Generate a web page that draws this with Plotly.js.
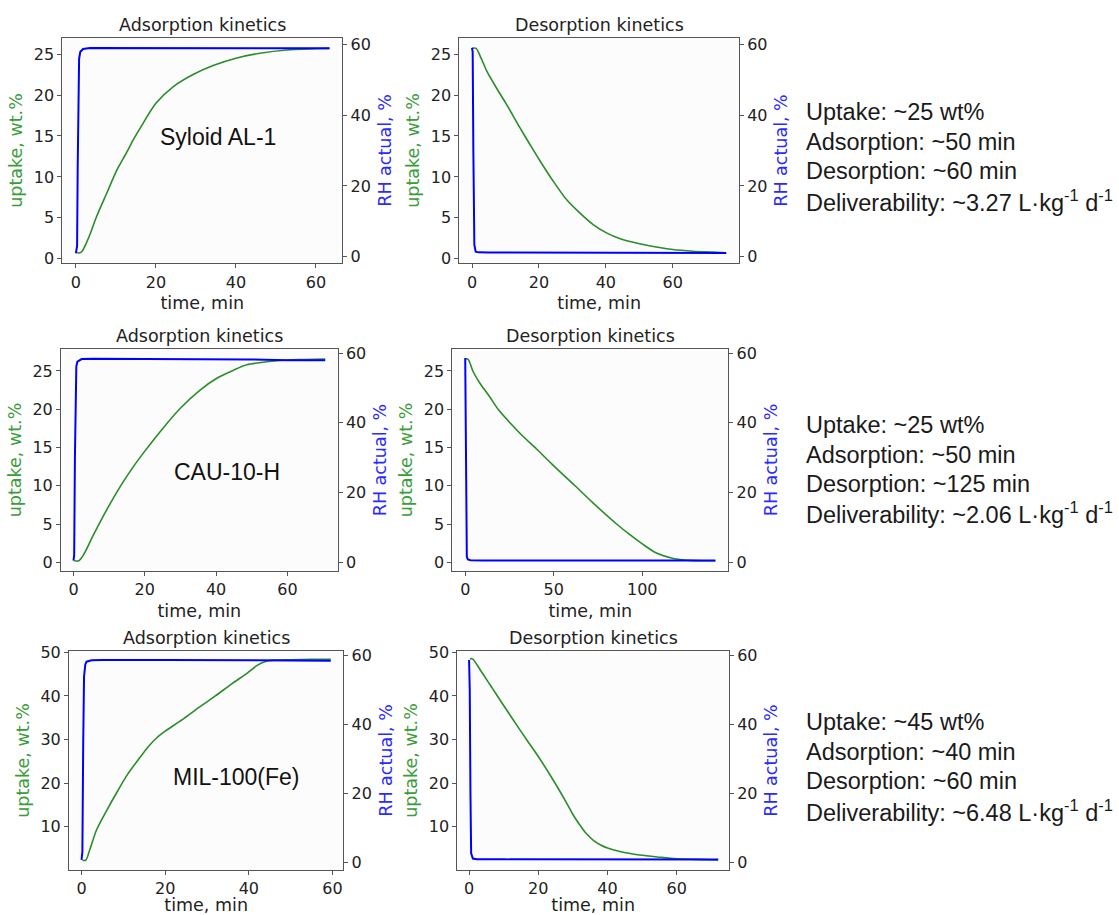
<!DOCTYPE html>
<html><head><meta charset="utf-8">
<script src="https://cdn.plot.ly/plotly-3.0.1.min.js"></script>
<style>html,body{margin:0;padding:0;background:#fff}#chart{width:1119px;height:915px}</style>
</head><body><div id="chart"></div>
<script>
// ---------- Data ----------
// Panel 1: Syloid AL-1 adsorption
var syAdsT   = [0.3, 1.0, 1.5, 2.5, 3.5, 5.2, 7.7, 10.2, 12.7, 14.3, 16, 20, 24.3, 29.3, 34.3, 40, 46, 52.7, 60, 63.4];
var syAdsUp  = [0.73, 0.73, 0.9, 1.8, 2.96, 5.2, 8.0, 10.8, 13.0, 14.5, 15.9, 19.0, 21.0, 22.5, 23.6, 24.5, 25.1, 25.5, 25.65, 25.7];
var syAdsRhT = [0, 0.3, 0.45, 0.6, 0.8, 1.1, 1.8, 3.5, 10, 20, 30, 40, 50, 63.4];
var syAdsRh  = [0.95, 3, 25, 48, 56, 58, 58.8, 59.1, 59.1, 59.1, 59.05, 59.0, 59.0, 59.0];
// Panel 2: Syloid AL-1 desorption
var syDesT   = [0, 1.2, 2.5, 4.5, 7.4, 10.4, 14.4, 17.4, 20.1, 24.3, 28.3, 32.2, 36.2, 40.2, 44.1, 50.1, 56, 60, 66, 71.9, 75.9];
var syDesUp  = [25.7, 25.7, 24.7, 22.85, 20.8, 18.8, 15.95, 13.9, 12.1, 9.46, 7.2, 5.6, 4.18, 3.17, 2.48, 1.83, 1.38, 1.14, 0.93, 0.81, 0.73];
var syDesRhT = [0, 0.2, 0.4, 0.7, 1.1, 2, 5, 20, 40, 60, 76];
var syDesRh  = [59.1, 58, 30, 3.3, 1.4, 1.2, 1.15, 1.1, 1.05, 1.0, 1.0];
// Panel 3: CAU-10-H adsorption
var cauAdsT   = [0.2, 1.5, 2.8, 5.6, 9.3, 13.1, 16.8, 19.9, 24.3, 29.9, 35.5, 40.2, 44.9, 48.6, 54.2, 60, 65, 70.6];
var cauAdsUp  = [0.2, 0.2, 0.96, 3.57, 6.84, 9.89, 12.5, 14.46, 17.07, 20.1, 22.5, 24.04, 25.1, 25.8, 26.2, 26.44, 26.5, 26.57];
var cauAdsRhT = [0, 0.2, 0.4, 0.6, 0.8, 1.1, 2.3, 5, 20, 40, 50, 60, 70.6];
var cauAdsRh  = [0.5, 2, 30, 52, 56.2, 57.6, 58.3, 58.4, 58.4, 58.3, 58.2, 58.0, 58.0];
// Panel 4: CAU-10-H desorption
var cauDesT   = [0.4, 1.7, 4.5, 8.3, 13.9, 18.6, 25, 32, 40.3, 50, 62, 72, 85.5, 93, 100, 108, 117.5, 127, 135, 141.3];
var cauDesUp  = [26.6, 26.5, 24.9, 23.4, 21.6, 20.0, 18.3, 16.6, 14.8, 12.6, 10.0, 7.8, 5.0, 3.6, 2.4, 1.2, 0.5, 0.25, 0.2, 0.2];
var cauDesRhT = [0, 0.3, 0.6, 0.9, 1.5, 3, 10, 50, 100, 141.3];
var cauDesRh  = [58.6, 40, 8, 1.6, 0.8, 0.6, 0.5, 0.5, 0.5, 0.5];
// Panel 5: MIL-100(Fe) adsorption
var milAdsT   = [0.2, 1.0, 2.0, 3.6, 6.0, 8.7, 11, 13.9, 16, 18, 20, 24, 28, 32, 36, 39.7, 42, 44, 46, 50, 55, 59.6];
var milAdsUp  = [2.3, 2.3, 4.8, 9.3, 13.7, 18.3, 22.0, 25.8, 28.4, 30.4, 31.9, 34.5, 37.3, 40.0, 42.8, 45.3, 47.0, 47.9, 48.2, 48.3, 48.4, 48.4];
var milAdsRhT = [0, 0.2, 0.4, 0.6, 0.9, 1.2, 2.4, 5, 20, 40, 59.6];
var milAdsRh  = [0.7, 3, 35, 54, 57.5, 58.3, 58.7, 58.8, 58.8, 58.7, 58.6];
// Panel 6: MIL-100(Fe) desorption
var milDesT   = [0.3, 1.0, 3.2, 6.1, 8, 9.9, 14.7, 16.6, 20, 24.3, 28.2, 30, 32, 34, 36, 38, 40, 43.6, 49.3, 55.1, 59.9, 65.7, 71.9];
var milDesUp  = [48.5, 48.5, 46, 42.5, 40.2, 37.9, 32.2, 30.0, 26.1, 20.7, 15.4, 12.8, 10.4, 8.3, 6.8, 5.8, 5.1, 4.3, 3.5, 3.0, 2.65, 2.5, 2.35];
var milDesRhT = [0, 0.2, 0.4, 0.6, 1.1, 2.2, 10, 30, 50, 72];
var milDesRh  = [58.8, 50, 20, 2.6, 1.1, 0.9, 0.85, 0.8, 0.8, 0.8];

// Labels
var panelTitles = ["Adsorption kinetics", "Desorption kinetics", "Adsorption kinetics", "Desorption kinetics", "Adsorption kinetics", "Desorption kinetics"];
var materials = ["Syloid AL-1", "CAU-10-H", "MIL-100(Fe)"];
var infoLines = [
  ["Uptake: ~25 wt%", "Adsorption: ~50 min", "Desorption: ~60 min", "Deliverability: ~3.27 L·kg<sup>-1</sup> d<sup>-1</sup>"],
  ["Uptake: ~25 wt%", "Adsorption: ~50 min", "Desorption: ~125 min", "Deliverability: ~2.06 L·kg<sup>-1</sup> d<sup>-1</sup>"],
  ["Uptake: ~45 wt%", "Adsorption: ~40 min", "Desorption: ~60 min", "Deliverability: ~6.48 L·kg<sup>-1</sup> d<sup>-1</sup>"]
];
var xLabel = "time, min", yLeftLabel = "uptake, wt.%", yRightLabel = "RH actual, %";

// ---------- Layout helpers ----------
var W = 1119, H = 915;
function px(x){ return x / W; }
function py(y){ return 1 - y / H; }

var panels = [
  {t: syAdsT, up: syAdsUp, rt: syAdsRhT, rh: syAdsRh, frame: [62.3, 342.3, 37.7, 263.3], xr: [-3.4, 66.6], yl: [-0.55, 27.0], yr: [-1.9, 62.0], xd: 20, yld: 5, y0: 0},
  {t: syDesT, up: syDesUp, rt: syDesRhT, rh: syDesRh, frame: [459.3, 739, 37.7, 263.3], xr: [-3.8, 79.8], yl: [-0.55, 27.0], yr: [-1.9, 62.0], xd: 20, yld: 5, y0: 0},
  {t: cauAdsT, up: cauAdsUp, rt: cauAdsRhT, rh: cauAdsRh, frame: [61, 337.7, 349, 571], xr: [-3.5, 74.1], yl: [-1.14, 27.87], yr: [-2.5, 61.2], xd: 20, yld: 5, y0: 0},
  {t: cauDesT, up: cauDesUp, rt: cauDesRhT, rh: cauDesRh, frame: [452.3, 728.3, 349, 571], xr: [-7.3, 148.6], yl: [-1.14, 27.87], yr: [-2.5, 61.2], xd: 50, yld: 5, y0: 0},
  {t: milAdsT, up: milAdsUp, rt: milAdsRhT, rh: milAdsRh, frame: [69, 343.3, 651, 870], xr: [-3.0, 62.6], yl: [0.06, 50.3], yr: [-2.24, 61.4], xd: 20, yld: 10, y0: 10},
  {t: milDesT, up: milDesUp, rt: milDesRhT, rh: milDesRh, frame: [457.3, 729, 651, 870], xr: [-3.4, 75.1], yl: [0.06, 50.3], yr: [-2.24, 61.4], xd: 20, yld: 10, y0: 10}
];

var GREEN_LINE = "#2a8c2a", GREEN_TXT = "#3a9d3a", BLUE_LINE = "#0000ff", BLUE_TXT = "#2a2aff";
var FRAME = "#555555", TICKTXT = "#222222";
var tickFont = {family: "DejaVu Sans", size: 16, color: TICKTXT};

var data = [];
var layout = {
  width: W, height: H,
  margin: {l: 0, r: 0, t: 0, b: 0},
  paper_bgcolor: "#ffffff",
  plot_bgcolor: "#fcfcfc",
  showlegend: false,
  annotations: []
};

panels.forEach(function(p, i){
  var n = i + 1;
  var xa = "x" + (n === 1 ? "" : n);
  var yL = "y" + (2*n - 1 === 1 ? "" : (2*n - 1));
  var yR = "y" + (2*n);
  var xKey = "xaxis" + (n === 1 ? "" : n);
  var yLKey = "yaxis" + (2*n - 1 === 1 ? "" : (2*n - 1));
  var yRKey = "yaxis" + (2*n);

  data.push({x: p.t, y: p.up, xaxis: xa, yaxis: yL, type: "scatter", mode: "lines",
             line: {color: GREEN_LINE, width: 1.6, shape: "spline", smoothing: 0.8}, hoverinfo: "x+y"});
  data.push({x: p.rt, y: p.rh, xaxis: xa, yaxis: yR, type: "scatter", mode: "lines",
             line: {color: BLUE_LINE, width: 2}, hoverinfo: "x+y"});

  var f = p.frame;
  layout[xKey] = {
    domain: [px(f[0]), px(f[1])], anchor: yL, range: p.xr,
    tick0: 0, dtick: p.xd, ticks: "outside", ticklen: 4, tickcolor: FRAME,
    showline: true, mirror: true, linecolor: FRAME, linewidth: 1,
    showgrid: false, zeroline: false, tickfont: tickFont,
    title: {text: xLabel, font: {family: "DejaVu Sans", size: 17.5, color: TICKTXT}, standoff: 6}
  };
  layout[yLKey] = {
    domain: [py(f[3]), py(f[2])], anchor: xa, range: p.yl,
    tick0: p.y0, dtick: p.yld, ticks: "outside", ticklen: 4, tickcolor: FRAME,
    showline: true, mirror: true, linecolor: FRAME, linewidth: 1,
    showgrid: false, zeroline: false, tickfont: tickFont,
    title: {text: yLeftLabel, font: {family: "DejaVu Sans", size: 17.5, color: GREEN_TXT}, standoff: 6}
  };
  layout[yRKey] = {
    overlaying: yL, side: "right", anchor: xa, range: p.yr,
    tick0: 0, dtick: 20, ticks: "outside", ticklen: 4, tickcolor: FRAME,
    showline: false, showgrid: false, zeroline: false, tickfont: tickFont,
    title: {text: yRightLabel, font: {family: "DejaVu Sans", size: 17.5, color: BLUE_TXT}, standoff: 8}
  };

  // panel title
  var titleY = [25, 25, 336, 336, 638.3, 638.3][i];
  layout.annotations.push({
    text: panelTitles[i], xref: "paper", yref: "paper",
    x: px((f[0] + f[1]) / 2), y: py(titleY), xanchor: "center", yanchor: "middle",
    showarrow: false, font: {family: "DejaVu Sans", size: 17.5, color: TICKTXT}
  });
});

// material names inside adsorption panels
var matPos = [[218.3, 136.7], [226.7, 471.7], [236.7, 776.7]];
materials.forEach(function(m, k){
  layout.annotations.push({
    text: m, xref: "paper", yref: "paper", x: px(matPos[k][0]), y: py(matPos[k][1]),
    xanchor: "center", yanchor: "middle", showarrow: false,
    font: {family: "Liberation Sans", size: 23, color: "#111111"}
  });
});

// summary text blocks
var blockY = [[112, 141.5, 171, 201], [424.5, 454.5, 483.5, 513], [722, 751.5, 781, 811]];
infoLines.forEach(function(lines, k){
  lines.forEach(function(s, j){
    layout.annotations.push({
      text: s, xref: "paper", yref: "paper", x: px(803.5), y: py(blockY[k][j]),
      xanchor: "left", yanchor: "middle", showarrow: false,
      font: {family: "Liberation Sans", size: 23.5, color: "#1a1a1a"}
    });
  });
});

Plotly.newPlot("chart", data, layout, {displayModeBar: false, staticPlot: true});
</script></body></html>
